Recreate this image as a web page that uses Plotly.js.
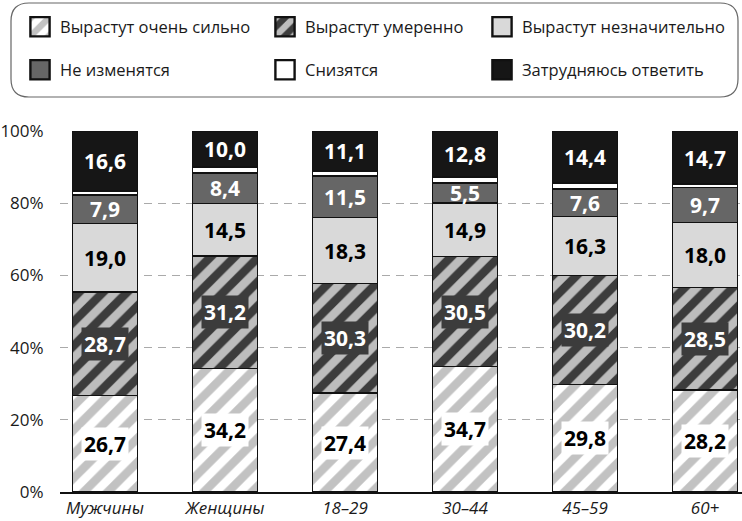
<!DOCTYPE html>
<html>
<head>
<meta charset="utf-8">
<script src="https://cdn.plot.ly/plotly-3.0.1.min.js"></script>
<style>
  html, body { margin: 0; padding: 0; background: #fff; }
  #chart { width: 742px; height: 521px; }
</style>
</head>
<body>
<div id="chart"></div>
<script>
// Groups along the x axis
const categories = ['Мужчины', 'Женщины', '18–29', '30–44', '45–59', '60+'];

// Answer options, bottom to top of each stack
const seriesNames = [
  'Вырастут очень сильно',
  'Вырастут умеренно',
  'Вырастут незначительно',
  'Не изменятся',
  'Снизятся',
  'Затрудняюсь ответить'
];

// Shares, % of respondents
const growStrong   = [26.7, 34.2, 27.4, 34.7, 29.8, 28.2];
const growModerate = [28.7, 31.2, 30.3, 30.5, 30.2, 28.5];
const growSlight   = [19.0, 14.5, 18.3, 14.9, 16.3, 18.0];
const noChange     = [7.9, 8.4, 11.5, 5.5, 7.6, 9.7];
const decrease     = [1.1, 1.7, 1.4, 1.6, 1.7, 0.9];
const hardToSay    = [16.6, 10.0, 11.1, 12.8, 14.4, 14.7];

const yTicks = [0, 20, 40, 60, 80, 100];

const seriesValues = [growStrong, growModerate, growSlight, noChange, decrease, hardToSay];

// Visual style of each series
const styles = [
  { pattern: { shape: '/', bgcolor: '#ffffff', fgcolor: '#c2c2c2', size: 17, solidity: 0.5, fillmode: 'replace' },
    color: '#ffffff', text: '#000000', labelBg: '#ffffff', showLabel: true },
  { pattern: { shape: '/', bgcolor: '#3c3c3c', fgcolor: '#bdbdbd', size: 17, solidity: 0.5, fillmode: 'replace' },
    color: '#3c3c3c', text: '#ffffff', labelBg: '#3c3c3c', showLabel: true },
  { color: '#d9d9d9', text: '#000000', labelBg: null, showLabel: true },
  { color: '#666666', text: '#ffffff', labelBg: null, showLabel: true },
  { color: '#ffffff', text: '#000000', labelBg: null, showLabel: false },
  { color: '#161616', text: '#ffffff', labelBg: null, showLabel: true }
];

// Legend slots: 3 columns x 2 rows (container pixels)
const legendCols = [20, 265, 482];
const legendRows = [27, 70];
const W = 742, H = 521;

const FONT = '"Open Sans", "Noto Sans", sans-serif';

const traces = seriesValues.map((vals, i) => {
  const s = styles[i];
  const marker = { color: s.color, line: { color: '#111111', width: 1.5 } };
  if (s.pattern) marker.pattern = s.pattern;
  return {
    type: 'bar',
    name: seriesNames[i],
    x: categories,
    y: vals,
    width: 0.545,
    marker: marker,
    hoverinfo: 'skip',
    showlegend: true,
    legend: i === 0 ? 'legend' : 'legend' + (i + 1)
  };
});

// Value labels at the middle of each segment
const annotations = [];
const cum = categories.map(() => 0);
seriesValues.forEach((vals, i) => {
  const s = styles[i];
  vals.forEach((v, j) => {
    const mid = cum[j] + v / 2;
    cum[j] += v;
    if (!s.showLabel) return;
    const a = {
      x: categories[j], y: mid, xref: 'x', yref: 'y',
      text: v.toFixed(1).replace('.', ','),
      showarrow: false,
      font: { family: FONT, size: 21, color: s.text, weight: 700 },
      borderpad: 2
    };
    if (s.labelBg) a.bgcolor = s.labelBg;
    annotations.push(a);
  });
});

// Plot area in pixels
const M = { l: 60, r: 0, t: 131, b: 29, autoexpand: false };
const PW = W - M.l - M.r, PH = H - M.t - M.b;
const px = x => (x - M.l) / PW;
const py = y => (H - M.b - y) / PH;

// Rounded frame around the legend
function roundedRect(x0, y0, x1, y1, r) {
  return 'M' + px(x0 + r) + ',' + py(y0) +
    ' L' + px(x1 - r) + ',' + py(y0) +
    ' Q' + px(x1) + ',' + py(y0) + ' ' + px(x1) + ',' + py(y0 + r) +
    ' L' + px(x1) + ',' + py(y1 - r) +
    ' Q' + px(x1) + ',' + py(y1) + ' ' + px(x1 - r) + ',' + py(y1) +
    ' L' + px(x0 + r) + ',' + py(y1) +
    ' Q' + px(x0) + ',' + py(y1) + ' ' + px(x0) + ',' + py(y1 - r) +
    ' L' + px(x0) + ',' + py(y0 + r) +
    ' Q' + px(x0) + ',' + py(y0) + ' ' + px(x0 + r) + ',' + py(y0) + ' Z';
}

const layout = {
  width: W, height: H,
  margin: M,
  showlegend: true,
  paper_bgcolor: '#ffffff',
  plot_bgcolor: '#ffffff',
  barmode: 'stack',
  bargap: 0,
  font: { family: FONT, color: '#1a1a1a' },
  xaxis: {
    type: 'category',
    range: [(M.l - 105) / 120, (W - M.r - 105) / 120],
    showgrid: false,
    zeroline: false,
    showline: true, linecolor: '#111111', linewidth: 1.5,
    ticks: '',
    tickfont: { family: FONT, size: 17, style: 'italic', color: '#1a1a1a' },
    fixedrange: true,
    automargin: false
  },
  yaxis: {
    range: [0, 100],
    tickvals: yTicks,
    ticktext: yTicks.map(t => t + '%'),
    showgrid: true, gridcolor: '#aaaaaa', gridwidth: 1, griddash: '8px,6px',
    zeroline: false, showline: false,
    ticks: 'outside', ticklen: 12, tickcolor: 'rgba(0,0,0,0)',
    tickfont: { family: FONT, size: 17, color: '#1a1a1a' },
    fixedrange: true,
    automargin: false
  },
  annotations: annotations,
  shapes: [{
    type: 'path', xref: 'paper', yref: 'paper',
    path: roundedRect(11, 3, 738, 97, 18),
    line: { color: '#666666', width: 1.2 },
    fillcolor: 'rgba(0,0,0,0)', layer: 'below'
  }]
};

seriesNames.forEach((n, i) => {
  const key = i === 0 ? 'legend' : 'legend' + (i + 1);
  layout[key] = {
    visible: true,
    xref: 'container', yref: 'container',
    x: legendCols[i % 3] / W,
    y: 1 - legendRows[Math.floor(i / 3)] / H,
    xanchor: 'left', yanchor: 'middle',
    bgcolor: 'rgba(0,0,0,0)', borderwidth: 0,
    font: { family: FONT, size: 16.5, color: '#1a1a1a' },
    itemclick: false, itemdoubleclick: false
  };
});

Plotly.newPlot('chart', traces, layout, { displayModeBar: false, staticPlot: true }).then(gd => {
  // Enlarge the legend swatches
  gd.querySelectorAll('.legendpoints path').forEach(p => {
    const t = p.getAttribute('transform') || '';
    p.setAttribute('transform', t + ' scale(1.6)');
  });
});
</script>
</body>
</html>
